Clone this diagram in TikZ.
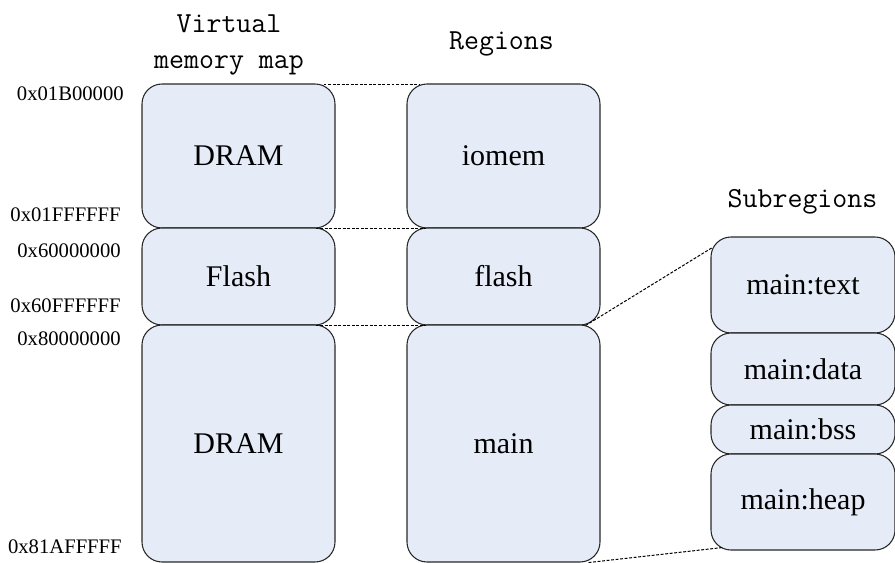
\documentclass[tikz,border=0pt]{standalone}
\usepackage{fontspec}
\setmainfont{Liberation Serif}
\definecolor{boxfill}{RGB}{230, 236, 247}
\definecolor{boxline}{RGB}{40, 40, 40}
\usepackage{tikz}
\usetikzlibrary{calc}

\begin{document}
\begin{tikzpicture}[x=0.75pt, y=-0.75pt,
    membox/.style={draw=boxline, line width=0.8pt, fill=boxfill, rounded corners=15pt, inner sep=0pt, minimum width=144.75pt, font=\fontsize{22.5}{26}\selectfont},
    subbox/.style={membox, minimum width=138pt},
    hexlabel/.style={anchor=east, inner sep=0pt, font=\fontsize{15.5}{18}\selectfont},
    heading/.style={align=center, inner sep=0pt, font=\ttfamily\fontsize{21.8}{27}\selectfont},
    link/.style={black, line width=0.75pt, dash pattern=on 2.2pt off 1.2pt}]
  \useasboundingbox (0,0) rectangle (895,563);

  % Headings
  \node[heading] (hvirt) at (229, 45) {Virtual\\memory map};
  \node[heading] (hreg) at (501.5, 44) {Regions};
  \node[heading] (hsub) at (802.5, 202) {Subregions};

  % Virtual memory map
  \node[membox, minimum height=108pt] (dramA) at (238.5, 156) {DRAM};
  \node[membox, minimum height=72.75pt] (flashA) at (238.5, 276.5) {Flash};
  \node[membox, minimum height=177.75pt] (dramB) at (238.5, 443.5) {DRAM};

  % Regions
  \node[membox, minimum height=108pt] (iomem) at (503.5, 156) {iomem};
  \node[membox, minimum height=72.75pt] (flash) at (503.5, 276.5) {flash};
  \node[membox, minimum height=177.75pt] (main) at (503.5, 443.5) {main};

  % Subregions
  \node[subbox, minimum height=72pt] (mtext) at (803, 285) {main:text};
  \node[subbox, minimum height=54pt] (mdata) at (803, 369) {main:data};
  \node[subbox, minimum height=36.75pt] (mbss) at (803, 429.5) {main:bss};
  \node[subbox, minimum height=72pt] (mheap) at (803, 502) {main:heap};

  % Addresses
  \node[hexlabel] (a1) at (124, 94) {0x01B00000};
  \node[hexlabel] (a2) at (121, 215) {0x01FFFFFF};
  \node[hexlabel] (a3) at (121, 251) {0x60000000};
  \node[hexlabel] (a4) at (121, 306) {0x60FFFFFF};
  \node[hexlabel] (a5) at (121, 339) {0x80000000};
  \node[hexlabel] (a6) at (122, 547) {0x81AFFFFF};

  % Mapping lines
  \draw[link] ($(dramA.north east)+(-12,1)$) -- ($(iomem.north west)+(13,1)$);
  \draw[link] ($(dramA.south east)+(-20,0)$) -- ($(iomem.south west)+(20,0)$);
  \draw[link] ($(flashA.south east)+(-20,0)$) -- ($(flash.south west)+(20,0)$);
  \draw[link] ($(flash.south east)+(-15,0)$) -- ($(mtext.north west)+(2,11)$);
  \draw[link] ($(main.south east)+(-12,0)$) -- ($(mheap.south west)+(12,-3)$);
\end{tikzpicture}
\end{document}
